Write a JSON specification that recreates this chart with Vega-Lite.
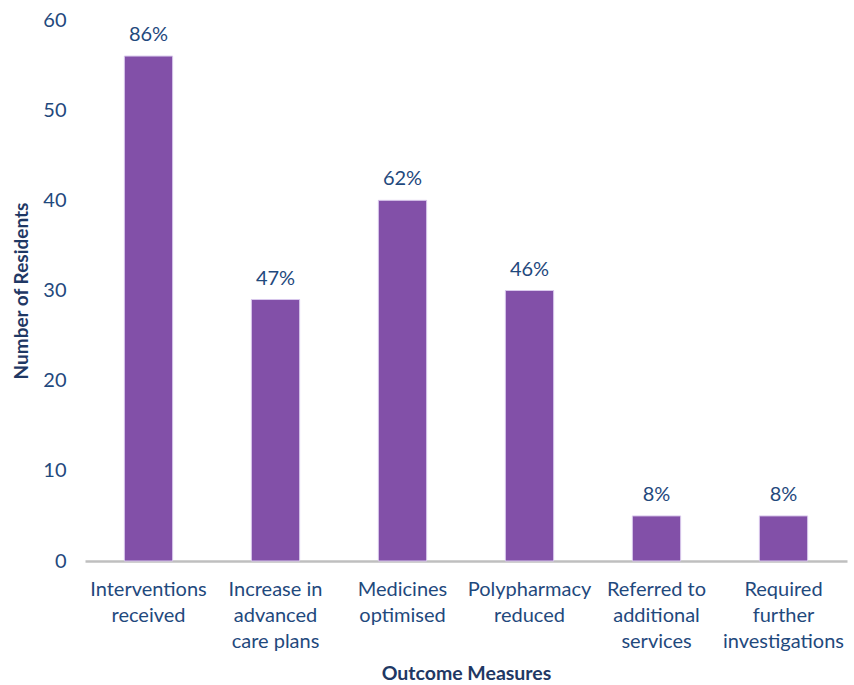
{
  "$schema": "https://vega.github.io/schema/vega-lite/v6.json",
  "width": 762,
  "height": 541,
  "autosize": {"type": "none"},
  "padding": {"left": 85, "top": 20, "right": 7, "bottom": 124},
  "background": "white",
  "config": {
    "view": {"stroke": null},
    "font": "Lato",
    "axis": {"labelFont": "Lato", "titleFont": "Lato"}
  },
  "data": {
    "values": [
      {"measure": "Interventions\nreceived", "residents": 56, "pct": "86%"},
      {"measure": "Increase in\nadvanced\ncare plans", "residents": 29, "pct": "47%"},
      {"measure": "Medicines\noptimised", "residents": 40, "pct": "62%"},
      {"measure": "Polypharmacy\nreduced", "residents": 30, "pct": "46%"},
      {"measure": "Referred to\nadditional\nservices", "residents": 5, "pct": "8%"},
      {"measure": "Required\nfurther\ninvestigations", "residents": 5, "pct": "8%"}
    ]
  },
  "encoding": {
    "x": {
      "field": "measure",
      "type": "nominal",
      "sort": null,
      "scale": {"paddingInner": 0.62, "paddingOuter": 0.31},
      "axis": {
        "title": "Outcome Measures",
        "labelAngle": 0,
        "labelExpr": "split(datum.label, '\\n')",
        "labelFontSize": 20,
        "labelColor": "#1f497d",
        "labelLineHeight": 26,
        "labelPadding": 18,
        "labelLimit": 200,
        "ticks": false,
        "domainColor": "#bfbfbf",
        "domainWidth": 2.5,
        "titleFontSize": 19.5,
        "titleFontWeight": "bold",
        "titleColor": "#1f3864",
        "titlePadding": 13
      }
    },
    "y": {
      "field": "residents",
      "type": "quantitative",
      "scale": {"domain": [0, 60]},
      "axis": {
        "title": "Number of Residents",
        "values": [0, 10, 20, 30, 40, 50, 60],
        "grid": false,
        "domain": false,
        "ticks": false,
        "labelFontSize": 20,
        "labelColor": "#1f497d",
        "labelPadding": 19,
        "titleFontSize": 19,
        "titleFontWeight": "bold",
        "titleColor": "#1f3864",
        "titlePadding": 11
      }
    }
  },
  "layer": [
    {"mark": {"type": "bar", "color": "#8250a8", "stroke": "#d9c8ec", "strokeWidth": 1}},
    {
      "mark": {"type": "text", "baseline": "alphabetic", "dy": -15, "fontSize": 20, "color": "#1f497d"},
      "encoding": {"text": {"field": "pct"}}
    }
  ]
}
